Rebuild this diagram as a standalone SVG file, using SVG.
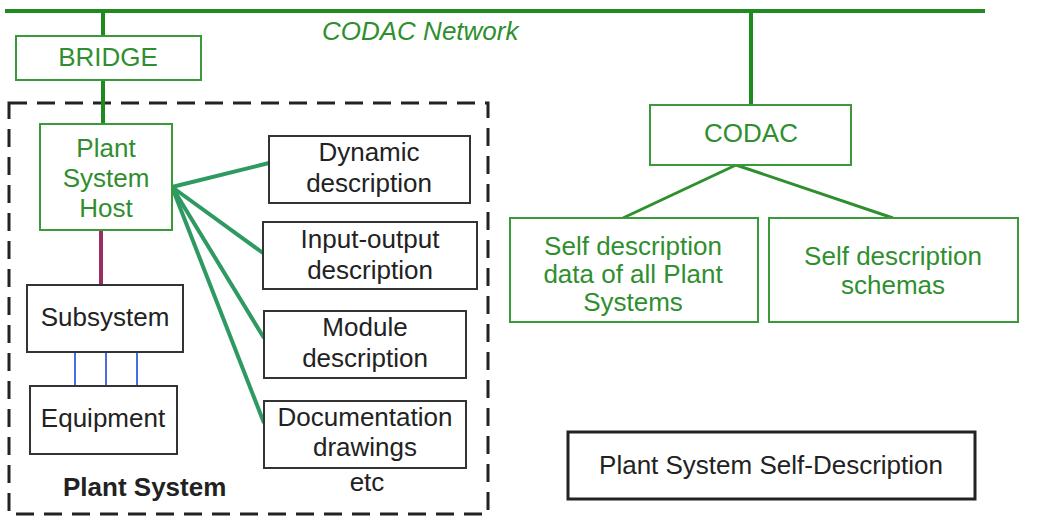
<svg xmlns="http://www.w3.org/2000/svg" width="1050" height="526" viewBox="0 0 1050 526">
<style>
text{font-family:"Liberation Sans",Arial,sans-serif;font-size:26px;text-anchor:middle}
.g{fill:#2f8f2f}
.k{fill:#222}
.gbox{fill:#fff;stroke:#3a9a3a;stroke-width:2}
.kbox{fill:#fff;stroke:#333;stroke-width:2}
.net{stroke:#1f8a1f;stroke-width:4;fill:none}
.host{stroke:#2e9a62;stroke-width:4;fill:none}
.cod{stroke:#2f8f2f;stroke-width:3;fill:none}
</style>
<rect width="1050" height="526" fill="#fff"/>
<g id="plant-system">
<rect x="9" y="103" width="479" height="411" fill="none" stroke="#222" stroke-width="3" stroke-dasharray="18,10"/>
<text x="63" y="496" class="k" style="font-weight:bold;text-anchor:start">Plant System</text>
</g>
<g id="connectors">
<line class="net" x1="5" y1="11" x2="985" y2="11"/>
<line class="net" x1="103" y1="11" x2="103" y2="36"/>
<line class="net" x1="103" y1="80" x2="103" y2="124"/>
<line class="net" x1="751" y1="11" x2="751" y2="105"/>
<line x1="101" y1="230" x2="101" y2="285" stroke="#9c2d63" stroke-width="4"/>
<g stroke="#4a6ee0" stroke-width="2">
<line x1="75" y1="352" x2="75" y2="386"/>
<line x1="106" y1="352" x2="106" y2="386"/>
<line x1="137" y1="352" x2="137" y2="386"/>
</g>
<line class="host" x1="172" y1="187" x2="269" y2="163"/>
<line class="host" x1="172" y1="187" x2="263" y2="253"/>
<line class="host" x1="172" y1="187" x2="264" y2="338"/>
<line class="host" x1="172" y1="187" x2="264" y2="423"/>
<line class="cod" x1="736" y1="165" x2="623" y2="218"/>
<line class="cod" x1="736" y1="165" x2="893" y2="218"/>
</g>
<text x="322" y="40" class="g" style="font-style:italic;text-anchor:start">CODAC Network</text>
<g id="bridge">
<rect class="gbox" x="16" y="36" width="185" height="44"/>
<text x="108" y="66" class="g">BRIDGE</text>
</g>
<g id="host">
<rect class="gbox" x="40" y="124" width="132" height="106"/>
<text x="106" y="157" class="g">Plant</text>
<text x="106" y="187" class="g">System</text>
<text x="106" y="217" class="g">Host</text>
</g>
<g id="subsystem">
<rect class="kbox" x="27" y="285" width="156" height="67"/>
<text x="105" y="326" class="k">Subsystem</text>
</g>
<g id="equipment">
<rect class="kbox" x="30" y="386" width="147" height="68"/>
<text x="103" y="427" class="k">Equipment</text>
</g>
<g id="dynamic">
<rect class="kbox" x="269" y="136" width="201" height="67"/>
<text x="369" y="161" class="k">Dynamic</text>
<text x="369" y="192" class="k">description</text>
</g>
<g id="io">
<rect class="kbox" x="263" y="222" width="214" height="67"/>
<text x="370" y="248" class="k">Input-output</text>
<text x="370" y="279" class="k">description</text>
</g>
<g id="module">
<rect class="kbox" x="264" y="311" width="202" height="67"/>
<text x="365" y="336" class="k">Module</text>
<text x="365" y="367" class="k">description</text>
</g>
<g id="documentation">
<rect class="kbox" x="264" y="401" width="202" height="67"/>
<text x="365" y="426" class="k">Documentation</text>
<text x="365" y="456" class="k">drawings</text>
<text x="367" y="491" class="k">etc</text>
</g>
<g id="codac">
<rect class="gbox" x="650" y="105" width="201" height="60"/>
<text x="751" y="142" class="g">CODAC</text>
</g>
<g id="sd-data">
<rect class="gbox" x="510" y="218" width="248" height="104"/>
<text x="633" y="255" class="g">Self description</text>
<text x="633" y="283" class="g">data of all Plant</text>
<text x="633" y="311" class="g">Systems</text>
</g>
<g id="sd-schemas">
<rect class="gbox" x="769" y="218" width="249" height="104"/>
<text x="893" y="265" class="g">Self description</text>
<text x="893" y="294" class="g">schemas</text>
</g>
<g id="legend">
<rect x="568" y="432" width="407" height="67" fill="#fff" stroke="#222" stroke-width="3"/>
<text x="771" y="474" class="k">Plant System Self-Description</text>
</g>
</svg>
